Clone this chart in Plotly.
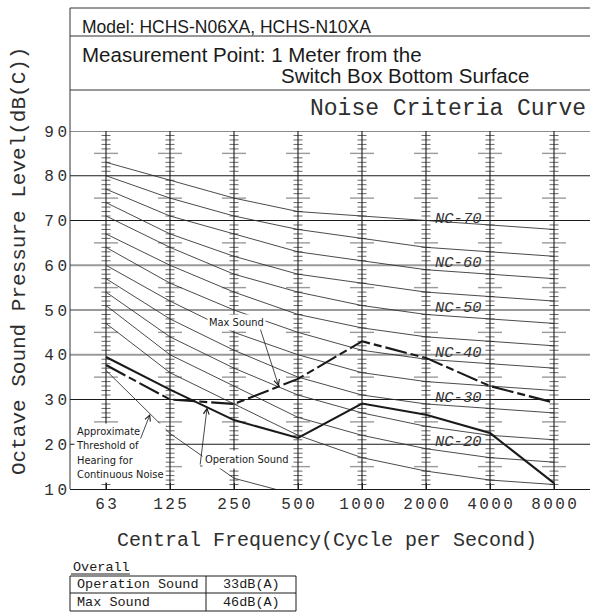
import plotly.graph_objects as go

# ---- data -------------------------------------------------------------
freq_labels = ["63", "125", "250", "500", "1000", "2000", "4000", "8000"]
db_ticks = [10, 20, 30, 40, 50, 60, 70, 80, 90]

# Noise criteria curves (dB per octave band, 63 Hz ... 8000 Hz)
nc_names = ["NC-15", "NC-20", "NC-25", "NC-30", "NC-35", "NC-40",
            "NC-45", "NC-50", "NC-55", "NC-60", "NC-65", "NC-70"]
nc_15 = [47, 36, 29, 22, 17, 14, 12, 11]
nc_20 = [51, 40, 33, 26, 22, 19, 17, 16]
nc_25 = [54, 44, 37, 31, 27, 24, 22, 21]
nc_30 = [57, 48, 41, 35, 31, 29, 28, 27]
nc_35 = [60, 52, 45, 40, 36, 34, 33, 32]
nc_40 = [64, 56, 50, 45, 41, 39, 38, 37]
nc_45 = [67, 60, 54, 49, 46, 44, 43, 42]
nc_50 = [71, 64, 58, 54, 51, 49, 48, 47]
nc_55 = [74, 67, 62, 58, 56, 54, 53, 52]
nc_60 = [77, 71, 67, 63, 61, 59, 58, 57]
nc_65 = [80, 75, 71, 68, 66, 64, 63, 62]
nc_70 = [83, 79, 75, 72, 71, 70, 69, 68]
nc_labelled = [20, 30, 40, 50, 60, 70]

# approximate threshold of hearing for continuous noise (63 ... 500 Hz)
threshold = [36.5, 22.4, 12.4, 8.6]

operation_sound = [39.5, 32.2, 25.4, 21.4, 29.1, 26.6, 22.5, 11.3]
max_sound = [37.7, 30.0, 29.0, 34.6, 43.0, 39.3, 33.0, 29.3]

table_rows = ["Operation Sound", "Max Sound"]
table_values = ["33dB(A)", "46dB(A)"]

# ---- geometry helpers -------------------------------------------------
W, H = 590, 612
ML, MR, MT, MB = 70, 0, 131, 123
PW, PH = W - ML - MR, H - MT - MB
X_RANGE = [-0.5625, 7.5625]
Y_RANGE = [10, 90]


def px_x(px):   # pixel column -> x data
    return X_RANGE[0] + (px - ML) / PW * (X_RANGE[1] - X_RANGE[0])


def px_y(py):   # pixel row -> y data
    return Y_RANGE[0] + (MT + PH - py) / PH * (Y_RANGE[1] - Y_RANGE[0])


def pap_x(px):
    return (px - ML) / PW


def pap_y(py):
    return (MT + PH - py) / PH


def spaced(s, gap=5):
    sep = "<span style='font-size:%dpx'> </span>" % gap
    return sep.join(s)


def lerp(vals, t):
    i = int(t)
    return vals[i] + (t - i) * (vals[i + 1] - vals[i])


MONO = "Liberation Mono"
SANS = "Liberation Sans"
NARROW = "DejaVu Sans Condensed, Liberation Sans Narrow, Liberation Mono"
INK = "#1a1a1a"
TXT = "#2e2e2e"

fig = go.Figure()

# ---- tick ladders on each octave band ---------------------------------
idx = list(range(len(freq_labels)))
dx_per_px = (X_RANGE[1] - X_RANGE[0]) / PW
col_x, col_y, s_x, s_y, l_x, l_y = [], [], [], [], [], []
for i in idx:
    col_x += [i, i, None]
    col_y += [Y_RANGE[0], Y_RANGE[1], None]
    for d in range(Y_RANGE[0] + 1, Y_RANGE[1]):
        if d % 10 == 0:
            continue
        if d % 5 == 0:
            hw = 12 * dx_per_px
            l_x += [i - hw, i + hw, None]
            l_y += [d, d, None]
        else:
            hw = 4.5 * dx_per_px
            s_x += [i - hw, i + hw, None]
            s_y += [d, d, None]

fig.add_trace(go.Scatter(x=l_x, y=l_y, mode="lines",
                         line=dict(color="#9a9a9a", width=1.4),
                         hoverinfo="skip", showlegend=False))
fig.add_trace(go.Scatter(x=s_x, y=s_y, mode="lines",
                         line=dict(color="#555555", width=0.9),
                         hoverinfo="skip", showlegend=False))
fig.add_trace(go.Scatter(x=col_x, y=col_y, mode="lines",
                         line=dict(color=INK, width=1.1),
                         hoverinfo="skip", showlegend=False))

# ---- NC curves ---------------------------------------------------------
nc_curves = [nc_15, nc_20, nc_25, nc_30, nc_35, nc_40,
             nc_45, nc_50, nc_55, nc_60, nc_65, nc_70]
for name, vals in zip(nc_names, nc_curves):
    fig.add_trace(go.Scatter(x=idx, y=vals, mode="lines", name=name,
                             line=dict(color="#2a2a2a", width=0.85),
                             hoverinfo="skip", showlegend=False))

fig.add_trace(go.Scatter(x=idx[:len(threshold)], y=threshold, mode="lines",
                         line=dict(color="#2a2a2a", width=0.85),
                         hoverinfo="skip", showlegend=False))

# ---- measured spectra --------------------------------------------------
fig.add_trace(go.Scatter(x=idx, y=operation_sound, mode="lines",
                         name="Operation Sound",
                         line=dict(color=INK, width=2.1),
                         showlegend=False))
fig.add_trace(go.Scatter(x=idx, y=max_sound, mode="lines",
                         name="Max Sound",
                         line=dict(color=INK, width=2.1,
                                   dash="22px,4px,8px,4px"),
                         showlegend=False))

# ---- grid lines --------------------------------------------------------
shapes = []
for d in db_ticks[1:]:
    grey = d in (40, 50, 60)
    shapes.append(dict(type="line", xref="paper", yref="y", x0=0, x1=1,
                       y0=d, y1=d, layer="below",
                       line=dict(color="#9a9a9a" if grey else INK,
                                 width=1.8 if grey else 1)))

# frame of the header block and the left rule
for py in (8, 36, 90):
    shapes.append(dict(type="line", xref="paper", yref="paper",
                       x0=0, x1=1, y0=pap_y(py), y1=pap_y(py),
                       line=dict(color="#333333", width=1)))
shapes.append(dict(type="line", xref="paper", yref="paper",
                   x0=0, x1=0, y0=0, y1=pap_y(8),
                   line=dict(color="#333333", width=1)))

annotations = []

# NC labels between 2000 and 4000 Hz
for nc in nc_labelled:
    annotations.append(dict(x=5.5, y=nc + 0.4, xref="x", yref="y",
                            text="NC-%d" % nc, showarrow=False,
                            font=dict(family=MONO, size=15.5,
                                      color="#333333", style="italic"),
                            xanchor="center", yanchor="middle"))

callout_font = dict(family=NARROW, size=11, color=INK)

# "Max Sound" call-out
annotations.append(dict(x=px_x(236), y=px_y(322), xref="x", yref="y",
                        text="Max Sound", showarrow=False, font=callout_font,
                        bgcolor="white", borderpad=1,
                        xanchor="center", yanchor="middle"))
shapes.append(dict(type="line", xref="x", yref="y",
                   x0=px_x(212), x1=px_x(260), y0=px_y(328), y1=px_y(328),
                   line=dict(color=INK, width=0.8)))
annotations.append(dict(x=2.70, y=lerp(max_sound, 2.70),
                        ax=px_x(260), ay=px_y(328), axref="x", ayref="y",
                        xref="x", yref="y", text="", showarrow=True,
                        arrowhead=5, arrowsize=1.4, arrowwidth=0.8,
                        arrowcolor=INK, standoff=0))

# "Operation Sound" call-out
annotations.append(dict(x=px_x(247), y=px_y(459), xref="x", yref="y",
                        text="Operation Sound", showarrow=False,
                        font=callout_font, bgcolor="white", borderpad=2,
                        xanchor="center", yanchor="middle"))
shapes.append(dict(type="line", xref="x", yref="y",
                   x0=px_x(200), x1=px_x(287), y0=px_y(466), y1=px_y(466),
                   line=dict(color=INK, width=0.8)))
annotations.append(dict(x=1.58, y=lerp(operation_sound, 1.58),
                        ax=px_x(200), ay=px_y(466), axref="x", ayref="y",
                        xref="x", yref="y", text="", showarrow=True,
                        arrowhead=5, arrowsize=1.4, arrowwidth=0.8,
                        arrowcolor=INK, standoff=0))

# threshold call-out
annotations.append(dict(x=px_x(74), y=px_y(453), xref="x", yref="y",
                        text="Approximate<br>Threshold of<br>Hearing for"
                             "<br>Continuous Noise",
                        showarrow=False, font=callout_font, align="left",
                        bgcolor="white", borderpad=1,
                        xanchor="left", yanchor="middle"))
annotations.append(dict(x=0.69, y=lerp(threshold, 0.69),
                        ax=px_x(140), ay=px_y(440), axref="x", ayref="y",
                        xref="x", yref="y", text="", showarrow=True,
                        arrowhead=5, arrowsize=1.4, arrowwidth=0.8,
                        arrowcolor=INK, standoff=0))

# ---- header texts -------------------------------------------------------
annotations.append(dict(x=pap_x(80), y=pap_y(27), xref="paper", yref="paper",
                        text="Model: HCHS-N06XA, HCHS-N10XA", showarrow=False,
                        font=dict(family=SANS, size=17.5, color=INK),
                        xanchor="left", yanchor="middle"))
annotations.append(dict(x=pap_x(80), y=pap_y(54), xref="paper", yref="paper",
                        text="Measurement Point: 1 Meter from the",
                        showarrow=False,
                        font=dict(family=SANS, size=20.5, color=INK),
                        xanchor="left", yanchor="middle"))
annotations.append(dict(x=pap_x(279), y=pap_y(76), xref="paper", yref="paper",
                        text="Switch Box Bottom Surface", showarrow=False,
                        font=dict(family=SANS, size=20.5, color=INK),
                        xanchor="left", yanchor="middle"))
annotations.append(dict(x=pap_x(588), y=pap_y(109), xref="paper",
                        yref="paper", text="Noise Criteria Curve",
                        showarrow=False,
                        font=dict(family=MONO, size=23, color=TXT),
                        xanchor="right", yanchor="middle"))

# ---- axis titles ----------------------------------------------------------
annotations.append(dict(x=pap_x(19), y=pap_y(261), xref="paper", yref="paper",
                        text="Octave Sound Pressure Level(dB(C))",
                        textangle=-90, showarrow=False,
                        font=dict(family=MONO, size=21, color=TXT),
                        xanchor="center", yanchor="middle"))
annotations.append(dict(x=pap_x(327), y=pap_y(540), xref="paper",
                        yref="paper",
                        text="Central Frequency(Cycle per Second)",
                        showarrow=False,
                        font=dict(family=MONO, size=20, color=TXT),
                        xanchor="center", yanchor="middle"))

# ---- overall table --------------------------------------------------------
annotations.append(dict(x=pap_x(71), y=pap_y(567), xref="paper", yref="paper",
                        text="Overall", showarrow=False,
                        font=dict(family=MONO, size=13.5, color=INK),
                        xanchor="left", yanchor="middle"))
shapes.append(dict(type="line", xref="paper", yref="paper",
                   x0=pap_x(71), x1=pap_x(130), y0=pap_y(574), y1=pap_y(574),
                   line=dict(color=INK, width=1)))

tb_left, tb_mid, tb_right = 70, 206, 296
tb_rows = [576, 593, 611]
for py in tb_rows:
    shapes.append(dict(type="line", xref="paper", yref="paper",
                       x0=pap_x(tb_left), x1=pap_x(tb_right),
                       y0=pap_y(py), y1=pap_y(py),
                       line=dict(color=INK, width=1)))
for px in (tb_left, tb_mid, tb_right):
    shapes.append(dict(type="line", xref="paper", yref="paper",
                       x0=pap_x(px), x1=pap_x(px),
                       y0=pap_y(tb_rows[0]), y1=pap_y(tb_rows[-1]),
                       line=dict(color=INK, width=1)))
for k, (name, val) in enumerate(zip(table_rows, table_values)):
    yc = (tb_rows[k] + tb_rows[k + 1]) / 2
    annotations.append(dict(x=pap_x(75), y=pap_y(yc), xref="paper",
                            yref="paper", text=name, showarrow=False,
                            font=dict(family=MONO, size=13.5, color=INK),
                            xanchor="left", yanchor="middle"))
    annotations.append(dict(x=pap_x((tb_mid + tb_right) / 2), y=pap_y(yc),
                            xref="paper", yref="paper", text=val,
                            showarrow=False,
                            font=dict(family=MONO, size=13.5, color=INK),
                            xanchor="center", yanchor="middle"))

fig.update_layout(
    width=W, height=H, autosize=False,
    margin=dict(l=ML, r=MR, t=MT, b=MB, pad=0),
    paper_bgcolor="white", plot_bgcolor="white",
    showlegend=False,
    shapes=shapes, annotations=annotations,
    xaxis=dict(range=X_RANGE, tickmode="array", tickvals=idx,
               ticktext=[spaced(f, 4) for f in freq_labels],
               showgrid=False, zeroline=False, showline=True,
               linecolor=INK, linewidth=1, ticks="inside", ticklen=6,
               tickcolor=INK,
               tickfont=dict(family=MONO, size=16, color=TXT)),
    yaxis=dict(range=Y_RANGE, tickmode="array", tickvals=db_ticks,
               ticktext=[spaced(str(d), 6) for d in db_ticks],
               showgrid=False, zeroline=False, showline=False, ticks="",
               ticklabelstandoff=2,
               tickfont=dict(family=MONO, size=16, color=TXT)),
)

fig.write_html("out.html")
